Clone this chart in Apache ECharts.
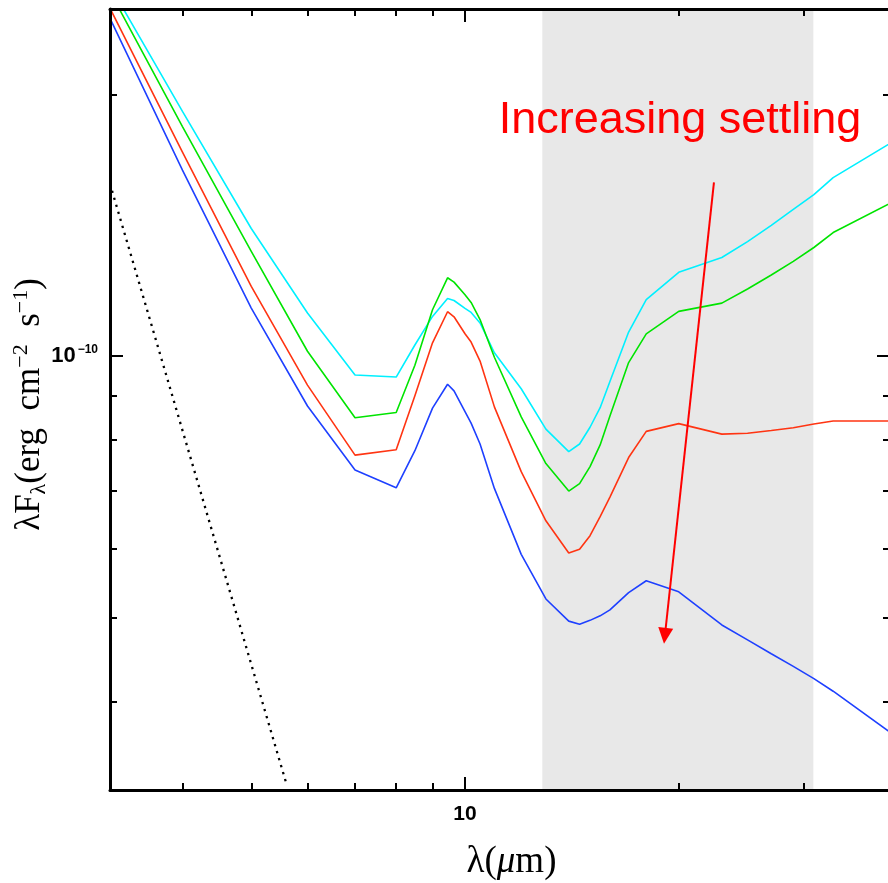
<!DOCTYPE html>
<html><head><meta charset="utf-8">
<script src="https://cdn.jsdelivr.net/npm/echarts@6/dist/echarts.min.js"></script>
<style>html,body{margin:0;padding:0;background:#fff}#c{width:888px;height:883px}</style>
</head><body><div id="c"></div>
<script>
// wavelength grid (micron)
const wavelength = [3.16,4,5,6,7,8,8.5,9,9.45,9.65,10,10.2,10.5,11,12,13,14,14.5,15,15.5,16,17,18,20,23,25,27,29,31,33,40];
// lambda F_lambda in units of 1e-10 erg cm^-2 s^-1
const fluxBlue  = [2.454,1.638,1.136,0.876,0.739,0.705,0.778,0.871,0.928,0.912,0.863,0.837,0.792,0.704,0.591,0.525,0.495,0.491,0.496,0.502,0.510,0.534,0.551,0.535,0.490,0.471,0.454,0.439,0.425,0.411,0.367];
const fluxRed   = [2.520,1.718,1.203,0.926,0.769,0.780,0.900,1.036,1.125,1.110,1.061,1.038,0.987,0.874,0.736,0.646,0.593,0.599,0.621,0.653,0.688,0.764,0.819,0.836,0.813,0.815,0.821,0.827,0.835,0.842,0.842];
const fluxGreen = [2.633,1.839,1.320,1.013,0.849,0.861,0.976,1.131,1.231,1.217,1.177,1.153,1.102,0.997,0.851,0.752,0.699,0.713,0.746,0.790,0.853,0.983,1.061,1.126,1.151,1.195,1.240,1.286,1.334,1.388,1.505];
const fluxCyan  = [2.675,1.914,1.403,1.121,0.951,0.946,1.030,1.111,1.165,1.159,1.135,1.123,1.092,1.009,0.917,0.824,0.776,0.792,0.828,0.872,0.935,1.066,1.162,1.249,1.299,1.355,1.415,1.476,1.535,1.606,1.765];
// stellar photosphere (dotted)
const starWavelength = [3.162, 5.6];
const starFlux = [1.58, 0.322];
// shaded band (micron)
const bandRange = [12.85, 30.95];
// annotation arrow [wavelength, flux]
const arrowStart = [22.42, 1.586];
const arrowEnd = [19.12, 0.476];
const annotationText = 'Increasing settling';
// axis ranges & ticks
const xRange = [3.1623, 39.81];
const yRange = [0.31623, 2.5119];
const xMajorTicks = [10];
const xMinorTicks = [4,5,6,7,8,9,20,30];
const xTickLabels = ['10'];
const yMajorTicks = [1];
const yMinorTicks = [2,0.9,0.8,0.7,0.6,0.5,0.4];
const yTickLabels = ['10^-10'];

const L = Math.log10;
const pts = (xs, ys) => xs.map((w,i)=>[L(w), L(ys[i])]);
const xMin = L(xRange[0]), xMax = L(xRange[1]);
const yMin = L(yRange[0]), yMax = L(yRange[1]);

function xAxisDef(pos, ticks, len, main){
  return {
    type:'value', position:pos, min:xMin, max:xMax, z:10,
    axisLine:{show:main, onZero:false, lineStyle:{color:'#000', width:3}},
    axisTick:{show:true, inside:true, length:len, lineStyle:{color:'#000', width:2}, customValues: ticks.map(L)},
    axisLabel:{show:false},
    splitLine:{show:false}
  };
}
function yAxisDef(pos, ticks, len, main){
  return {
    type:'value', position:pos, min:yMin, max:yMax, z:10,
    axisLine:{show:main, onZero:false, lineStyle:{color:'#000', width:3}},
    axisTick:{show:true, inside:true, length:len, lineStyle:{color:'#000', width:2}, customValues: ticks.map(L)},
    axisLabel:{show:false},
    splitLine:{show:false}
  };
}

const xMain = xAxisDef('bottom', xMajorTicks, 13, true);
xMain.axisLabel = {
  show:true, customValues: xMajorTicks.map(L), margin:14,
  formatter: v => { const i = xMajorTicks.findIndex(t => Math.abs(L(t)-v) < 1e-9); return i >= 0 ? xTickLabels[i] : ''; },
  fontSize:21, fontWeight:'bold', color:'#000', fontFamily:'Liberation Sans'
};
xMain.name = '{a|λ(}{i|μ}{a|m)}';
xMain.nameLocation = 'middle';
xMain.nameGap = 54;
xMain.nameMoveOverlap = false;
xMain.nameTextStyle = {padding:[0,0,0,22], rich:{
  a:{fontSize:37, fontFamily:'Liberation Serif', color:'#000'},
  i:{fontSize:37, fontFamily:'Liberation Serif', fontStyle:'italic', color:'#000'}
}};

const yMain = yAxisDef('left', yMajorTicks, 13, true);
yMain.axisLabel = {
  show:true, customValues: yMajorTicks.map(L), margin:12,
  formatter: v => { const i = yMajorTicks.findIndex(t => Math.abs(L(t)-v) < 1e-9); if (i < 0) return ''; const p = yTickLabels[i].split('^'); return '{b|' + p[0] + '}{s|' + p[1].replace('-', '−') + '}'; },
  rich:{
    b:{fontSize:22, fontWeight:'bold', color:'#000', fontFamily:'Liberation Sans', lineHeight:24, padding:[0,2,0,0]},
    s:{fontSize:12, fontWeight:'bold', color:'#000', fontFamily:'Liberation Sans', lineHeight:13, verticalAlign:'top'}
  }
};
yMain.name = '{a|λF}{sub|λ}{a|(erg  cm}{sup|−2}{a|  s}{sup|−1}{a|)}';
yMain.nameLocation = 'middle';
yMain.nameRotate = 90;
yMain.nameGap = 60;
yMain.nameMoveOverlap = false;
yMain.nameTextStyle = {padding:[0,10,0,0], rich:{
  a:{fontSize:35, fontFamily:'Liberation Serif', color:'#000', lineHeight:40},
  sub:{fontSize:22, fontFamily:'Liberation Serif', color:'#000', lineHeight:20, verticalAlign:'bottom'},
  sup:{fontSize:22, fontFamily:'Liberation Serif', color:'#000', lineHeight:20, verticalAlign:'top'}
}};

const lineSeries = (name, flux, color) => ({
  name, type:'line', xAxisIndex:0, yAxisIndex:0, data: pts(wavelength, flux),
  symbol:'none', showSymbol:false, z:3, silent:true,
  lineStyle:{color, width:1.6}, itemStyle:{color}
});

const option = {
  animation:false,
  backgroundColor:'#fff',
  grid:{left:110, top:9, right:-3, bottom:93, containLabel:false, outerBoundsMode:'none'},
  xAxis:[
    xMain,
    xAxisDef('bottom', xMinorTicks, 7, false),
    xAxisDef('top', xMajorTicks, 13, true),
    xAxisDef('top', xMinorTicks, 7, false)
  ],
  yAxis:[
    yMain,
    yAxisDef('left', yMinorTicks, 7, false),
    yAxisDef('right', yMajorTicks, 14, true),
    yAxisDef('right', yMinorTicks, 8, false)
  ],
  series:[
    {
      name:'photosphere', type:'line', data: pts(starWavelength, starFlux),
      symbol:'none', z:2, silent:true,
      lineStyle:{color:'#000', width:2.3, type:[2.3,5]},
      markArea:{silent:true, itemStyle:{color:'#e8e8e8'}, data:[[{xAxis:L(bandRange[0])},{xAxis:L(bandRange[1])}]]}
    },
    lineSeries('cyan', fluxCyan, '#00f0ff'),
    lineSeries('green', fluxGreen, '#00e400'),
    lineSeries('red', fluxRed, '#ff3412'),
    Object.assign(lineSeries('blue', fluxBlue, '#1e40ff'), {
      markLine:{
        silent:true, symbol:['none','triangle'], symbolSize:[15,16],
        label:{show:false},
        lineStyle:{color:'#ff0000', width:2, type:'solid'},
        data:[[{coord:[L(arrowStart[0]), L(arrowStart[1])]},{coord:[L(arrowEnd[0]), L(arrowEnd[1])]}]]
      }
    })
  ],
  graphic:[{
    type:'text', x:680, y:121, z:20,
    style:{text:annotationText, font:'45px "Liberation Sans"', fill:'#ff0000', align:'center', verticalAlign:'middle', textAlign:'center', textVerticalAlign:'middle'}
  }]
};
const chart = echarts.init(document.getElementById('c'));
chart.setOption(option);
</script>
</body></html>
